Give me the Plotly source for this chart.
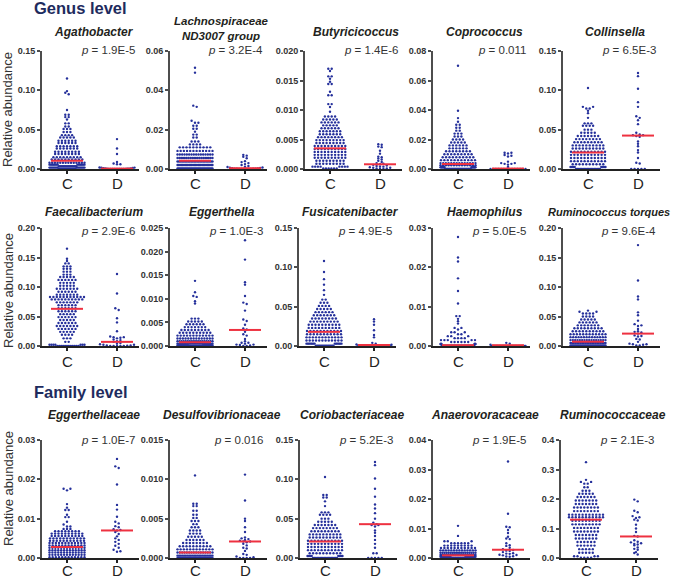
import numpy as np
import plotly.graph_objects as go

# ---------------- data ----------------
taxa = ["Agathobacter", "Lachnospiraceae<br>ND3007 group", "Butyricicoccus", "Coprococcus", "Collinsella",
        "Faecalibacterium", "Eggerthella", "Fusicatenibacter", "Haemophilus", "Ruminococcus torques",
        "Eggerthellaceae", "Desulfovibrionaceae", "Coriobacteriaceae", "Anaerovoracaceae", "Ruminococcaceae"]
p_values = ["1.9E-5", "3.2E-4", "1.4E-6", "0.011", "6.5E-3",
            "2.9E-6", "1.0E-3", "4.9E-5", "5.0E-5", "9.6E-4",
            "1.0E-7", "0.016", "5.2E-3", "1.9E-5", "2.1E-3"]
groups = ["C", "D"]
section_labels = ["Genus level", "Family level"]
y_label = "Relative abundance"

y_ticks = [[0, 0.05, 0.10, 0.15], [0, 0.02, 0.04, 0.06], [0, 0.005, 0.010, 0.015, 0.020],
           [0, 0.02, 0.04, 0.06, 0.08], [0, 0.05, 0.10, 0.15],
           [0, 0.05, 0.10, 0.15, 0.20], [0, 0.005, 0.010, 0.015, 0.020, 0.025], [0, 0.05, 0.10, 0.15],
           [0, 0.01, 0.02, 0.03], [0, 0.05, 0.10, 0.15, 0.20],
           [0, 0.01, 0.02, 0.03], [0, 0.005, 0.010, 0.015], [0, 0.05, 0.10, 0.15],
           [0, 0.01, 0.02, 0.03, 0.04], [0, 0.1, 0.2, 0.3, 0.4]]
y_tick_labels = [["0.00", "0.05", "0.10", "0.15"], ["0.00", "0.02", "0.04", "0.06"],
                 ["0.000", "0.005", "0.010", "0.015", "0.020"], ["0.00", "0.02", "0.04", "0.06", "0.08"],
                 ["0.00", "0.05", "0.10", "0.15"],
                 ["0.00", "0.05", "0.10", "0.15", "0.20"], ["0.000", "0.005", "0.010", "0.015", "0.020", "0.025"],
                 ["0.00", "0.05", "0.10", "0.15"], ["0.00", "0.01", "0.02", "0.03"],
                 ["0.00", "0.05", "0.10", "0.15", "0.20"],
                 ["0.00", "0.01", "0.02", "0.03"], ["0.000", "0.005", "0.010", "0.015"],
                 ["0.00", "0.05", "0.10", "0.15"], ["0.00", "0.01", "0.02", "0.03", "0.04"],
                 ["0.0", "0.1", "0.2", "0.3", "0.4"]]

median_C = [0.0105, 0.0042, 0.0035, 0.0034, 0.021, 0.063, 0.0008, 0.018, 0.0002, 0.0073,
            0.0028, 0.0007, 0.021, 0.0009, 0.130]
median_D = [0.0005, 0.0004, 0.0008, 0.0003, 0.0425, 0.007, 0.0034, 0.0013, 0.0002, 0.021,
            0.0070, 0.0021, 0.043, 0.0028, 0.073]

# control group: abundance levels (rows of the dot plot) and number of samples on each
agathobacter_C_levels = [0.115, 0.099, 0.097, 0.095, 0.075, 0.069, 0.066, 0.063, 0.058, 0.054, 0.051, 0.047, 0.043,
                         0.040, 0.036, 0.033, 0.029, 0.026, 0.022, 0.019, 0.015, 0.012, 0.008, 0.0055, 0.0035,
                         0.0018, 0.0004]
agathobacter_C_counts = [1, 1, 1, 1, 1, 2, 2, 1, 2, 2, 3, 3, 4, 5, 6, 6, 7, 7, 8, 8, 9, 10, 14, 15, 16, 16, 16]
agathobacter_D = [0.038, 0.026, 0.019, 0.009, 0.007, 0.006, 0.006, 0.002, 0.0018, 0.0015, 0.0012, 0.001, 0.0008,
                  0.0006, 0.0005, 0.0004, 0.0003, 0.0002, 0.0002, 0.0001, 0.0001, 0, 0, 0, 0, 0, 0]

lachno_C_levels = [0.0515, 0.049, 0.0322, 0.0316, 0.0245, 0.0235, 0.022, 0.0205, 0.019, 0.0175, 0.016, 0.014,
                   0.0125, 0.011, 0.0092, 0.0074, 0.0056, 0.0038, 0.002, 0.0003]
lachno_C_counts = [1, 1, 1, 1, 1, 2, 2, 2, 1, 2, 2, 3, 4, 10, 12, 16, 20, 24, 28, 32]
lachno_D = [0.0072, 0.0068, 0.0062, 0.0055, 0.004, 0.0035, 0.003, 0.0025, 0.002, 0.0015, 0.0012, 0.001, 0.0008,
            0.0006, 0.0005, 0.0004, 0.0003, 0.0002, 0.0002, 0.0001, 0.0001, 0, 0, 0, 0, 0, 0]

butyricicoccus_C_levels = [0.0170, 0.0166, 0.0157, 0.0153, 0.0148, 0.0144, 0.0131, 0.0125, 0.0110, 0.0105, 0.0097,
                           0.0089, 0.0084, 0.0079, 0.0074, 0.0069, 0.0064, 0.0059, 0.0054, 0.0049, 0.0044, 0.0039,
                           0.0034, 0.0029, 0.0024, 0.0019, 0.0014, 0.0009, 0.0004, 0.0001]
butyricicoccus_C_counts = [2, 1, 2, 1, 1, 2, 1, 2, 2, 1, 1, 4, 5, 6, 5, 6, 7, 7, 8, 9, 9, 10, 10, 10, 10, 10, 9, 9,
                           8, 6]
butyricicoccus_D = [0.0042, 0.0041, 0.0038, 0.0037, 0.0031, 0.0026, 0.0021, 0.002, 0.0018, 0.0016, 0.0014, 0.0012,
                    0.001, 0.0009, 0.0008, 0.0007, 0.0006, 0.0005, 0.0004, 0.0004, 0.0003, 0.0002, 0.0002, 0.0001,
                    0.0001, 0, 0]

coprococcus_C_levels = [0.070, 0.0395, 0.0345, 0.032, 0.030, 0.028, 0.026, 0.024, 0.022, 0.020, 0.018, 0.016, 0.014,
                        0.012, 0.010, 0.008, 0.006, 0.004, 0.0025, 0.0012, 0.0]
coprococcus_C_counts = [1, 1, 1, 1, 2, 2, 2, 3, 3, 4, 5, 6, 6, 8, 9, 10, 11, 14, 14, 14, 40]
coprococcus_D = [0.011, 0.011, 0.0105, 0.0095, 0.009, 0.0085, 0.005, 0.004, 0.004, 0.0035, 0.0035, 0.003, 0.0015,
                 0, 0, 0, 0, 0, 0, 0, 0, 0, 0, 0, 0, 0, 0]

collinsella_C_levels = [0.103, 0.079, 0.077, 0.074, 0.071, 0.065, 0.058, 0.055, 0.050, 0.046, 0.042, 0.038, 0.034,
                        0.030, 0.026, 0.022, 0.018, 0.014, 0.010, 0.006, 0.0025, 0.0]
collinsella_C_counts = [1, 2, 2, 1, 1, 1, 3, 4, 3, 5, 7, 8, 9, 10, 10, 11, 11, 11, 11, 10, 8, 18]
collinsella_D = [0.122, 0.118, 0.102, 0.085, 0.079, 0.067, 0.065, 0.062, 0.057, 0.046, 0.044, 0.043, 0.043, 0.042,
                 0.041, 0.035, 0.032, 0.029, 0.024, 0.021, 0.014, 0.008, 0.007, 0, 0, 0, 0, 0]

faecali_C_levels = [0.165, 0.148, 0.144, 0.140, 0.135, 0.131, 0.126, 0.121, 0.117, 0.112, 0.107, 0.102, 0.097,
                    0.092, 0.087, 0.083, 0.079, 0.074, 0.069, 0.064, 0.059, 0.054, 0.049, 0.044, 0.039, 0.034,
                    0.029, 0.024, 0.019, 0.013, 0.007, 0.002, 0.0]
faecali_C_counts = [1, 1, 1, 2, 3, 3, 3, 3, 5, 6, 5, 5, 7, 6, 7, 11, 10, 7, 6, 6, 6, 5, 6, 5, 6, 7, 6, 5, 4, 3, 2,
                    7, 12]
faecali_D = [0.122, 0.089, 0.064, 0.061, 0.047, 0.040, 0.025, 0.016, 0.015, 0.015, 0.014, 0.013, 0.011, 0.010,
             0.008, 0.007, 0.005, 0.004, 0.003, 0.002, 0.002, 0.001, 0.001, 0.0005, 0, 0, 0, 0, 0]

eggerthella_C_levels = [0.0138, 0.0114, 0.0106, 0.0104, 0.0095, 0.0090, 0.0058, 0.0052, 0.0046, 0.0040, 0.0034,
                        0.0028, 0.0022, 0.0016, 0.0010, 0.0005, 0.0001, 0.0]
eggerthella_C_counts = [1, 1, 1, 1, 1, 1, 3, 5, 6, 7, 9, 10, 12, 14, 18, 22, 25, 15]
eggerthella_D = [0.0224, 0.0183, 0.0135, 0.013, 0.0106, 0.0092, 0.0089, 0.0075, 0.0056, 0.0053, 0.0045, 0.0037,
                 0.0035, 0.003, 0.0025, 0.0022, 0.0015, 0.001, 0.0007, 0.0007, 0.0005, 0.0003, 0.0003, 0.0002,
                 0.0001, 0, 0]

fusicatenibacter_C_levels = [0.108, 0.094, 0.085, 0.078, 0.071, 0.065, 0.059, 0.055, 0.051, 0.047, 0.043, 0.039,
                             0.035, 0.031, 0.027, 0.023, 0.019, 0.015, 0.011, 0.007, 0.003, 0.0005]
fusicatenibacter_C_counts = [1, 1, 1, 1, 1, 1, 2, 3, 4, 5, 6, 7, 8, 9, 10, 10, 11, 11, 12, 12, 13, 14]
fusicatenibacter_D = [0.034, 0.031, 0.027, 0.020, 0.014, 0.011, 0.004, 0.003, 0.002, 0.0015, 0.001, 0.001, 0.0008,
                      0.0006, 0.0005, 0.0004, 0.0003, 0.0002, 0.0002, 0.0001, 0.0001, 0, 0, 0, 0, 0, 0]

haemophilus_C_levels = [0.0277, 0.0225, 0.0215, 0.0172, 0.0140, 0.0108, 0.0076, 0.0069, 0.0063, 0.0057, 0.0046,
                        0.0042, 0.0035, 0.0030, 0.0025, 0.0020, 0.0015, 0.0010, 0.0005, 0.0]
haemophilus_C_counts = [1, 1, 1, 1, 1, 1, 2, 1, 1, 1, 2, 1, 3, 2, 3, 4, 5, 6, 8, 100]
haemophilus_D = [0.0008, 0.0006, 0.0003, 0, 0, 0, 0, 0, 0, 0, 0, 0, 0, 0, 0, 0, 0, 0, 0, 0, 0, 0, 0, 0, 0, 0, 0]

rtorques_C_levels = [0.060, 0.058, 0.055, 0.050, 0.045, 0.040, 0.035, 0.030, 0.025, 0.020, 0.015, 0.010, 0.005,
                     0.001]
rtorques_C_counts = [1, 2, 4, 4, 5, 6, 7, 9, 10, 12, 14, 16, 22, 30]
rtorques_D = [0.171, 0.111, 0.084, 0.079, 0.057, 0.052, 0.043, 0.037, 0.035, 0.034, 0.029, 0.025, 0.024, 0.023,
              0.021, 0.018, 0.017, 0.016, 0.012, 0.011, 0.007, 0.004, 0.003, 0.003, 0.002, 0.001, 0.001]

eggerthellaceae_C_levels = [0.0176, 0.0172, 0.0137, 0.0128, 0.0122, 0.0110, 0.0104, 0.0092, 0.0085, 0.0080, 0.0074,
                            0.0068, 0.0062, 0.0056, 0.0050, 0.0044, 0.0038, 0.0032, 0.0026, 0.0020, 0.0014, 0.0008,
                            0.0002]
eggerthellaceae_C_counts = [2, 1, 1, 1, 2, 1, 2, 1, 1, 2, 3, 8, 10, 10, 11, 11, 12, 12, 13, 13, 13, 13, 12]
eggerthellaceae_D = [0.0252, 0.0233, 0.0229, 0.0187, 0.0135, 0.0123, 0.0105, 0.0092, 0.0088, 0.0081, 0.0078, 0.0073,
                     0.0071, 0.0070, 0.0066, 0.0061, 0.0055, 0.0050, 0.0046, 0.0041, 0.0036, 0.0031, 0.0026, 0.0021,
                     0.0017, 0.0016]

desulfo_C_levels = [0.0105, 0.0069, 0.0066, 0.0060, 0.0055, 0.0051, 0.0047, 0.0043, 0.0039, 0.0035, 0.0031, 0.0027,
                    0.0023, 0.0019, 0.0015, 0.0011, 0.0007, 0.0003, 0.0]
desulfo_C_counts = [1, 2, 2, 2, 2, 2, 3, 2, 3, 4, 4, 5, 6, 8, 10, 12, 16, 22, 30]
desulfo_D = [0.0106, 0.0073, 0.0050, 0.0047, 0.0039, 0.0033, 0.0026, 0.0025, 0.0024, 0.0023, 0.0022, 0.0021, 0.0021,
             0.0020, 0.0018, 0.0016, 0.0013, 0.0012, 0.0009, 0.0005, 0.0004, 0.0002, 0.0001, 0, 0, 0, 0]

corio_C_levels = [0.103, 0.080, 0.077, 0.072, 0.066, 0.058, 0.055, 0.050, 0.046, 0.042, 0.038, 0.034, 0.030, 0.026,
                  0.022, 0.018, 0.014, 0.010, 0.006, 0.0025, 0.0]
corio_C_counts = [1, 2, 2, 1, 1, 3, 4, 3, 5, 7, 8, 9, 10, 10, 11, 11, 11, 11, 10, 8, 18]
corio_D = [0.122, 0.118, 0.101, 0.088, 0.078, 0.068, 0.063, 0.057, 0.050, 0.045, 0.043, 0.042, 0.042, 0.040, 0.035,
           0.032, 0.028, 0.023, 0.018, 0.013, 0.006, 0.006, 0, 0, 0, 0, 0]

anaero_C_levels = [0.0109, 0.0075, 0.0057, 0.0050, 0.0042, 0.0034, 0.0026, 0.0018, 0.0010, 0.0004, 0.0]
anaero_C_counts = [1, 1, 3, 6, 9, 11, 14, 18, 22, 30, 20]
anaero_D = [0.0327, 0.0150, 0.0106, 0.0104, 0.0095, 0.0085, 0.0072, 0.0066, 0.0064, 0.0050, 0.0043, 0.0041, 0.0035,
            0.0030, 0.0027, 0.0025, 0.0024, 0.0020, 0.0016, 0.0015, 0.0014, 0.0011, 0.0010, 0.0009, 0.0006, 0.0005,
            0.0004]

rumino_C_levels = [0.325, 0.265, 0.258, 0.252, 0.240, 0.228, 0.218, 0.207, 0.195, 0.183, 0.171, 0.159, 0.147, 0.138,
                   0.126, 0.114, 0.102, 0.090, 0.078, 0.066, 0.054, 0.042, 0.030, 0.018, 0.006, 0.001]
rumino_C_counts = [1, 1, 2, 2, 2, 3, 5, 6, 7, 7, 8, 8, 11, 11, 9, 9, 8, 8, 7, 7, 6, 6, 5, 5, 4, 4]
rumino_D = [0.198, 0.192, 0.160, 0.155, 0.142, 0.138, 0.136, 0.130, 0.127, 0.113, 0.100, 0.088, 0.075, 0.073, 0.060,
            0.055, 0.053, 0.050, 0.048, 0.046, 0.043, 0.036, 0.031, 0.028, 0.020, 0.017, 0.012]

C_levels = [agathobacter_C_levels, lachno_C_levels, butyricicoccus_C_levels, coprococcus_C_levels,
            collinsella_C_levels, faecali_C_levels, eggerthella_C_levels, fusicatenibacter_C_levels,
            haemophilus_C_levels, rtorques_C_levels, eggerthellaceae_C_levels, desulfo_C_levels,
            corio_C_levels, anaero_C_levels, rumino_C_levels]
C_counts = [agathobacter_C_counts, lachno_C_counts, butyricicoccus_C_counts, coprococcus_C_counts,
            collinsella_C_counts, faecali_C_counts, eggerthella_C_counts, fusicatenibacter_C_counts,
            haemophilus_C_counts, rtorques_C_counts, eggerthellaceae_C_counts, desulfo_C_counts,
            corio_C_counts, anaero_C_counts, rumino_C_counts]
D_values = [agathobacter_D, lachno_D, butyricicoccus_D, coprococcus_D, collinsella_D, faecali_D, eggerthella_D,
            fusicatenibacter_D, haemophilus_D, rtorques_D, eggerthellaceae_D, desulfo_D, corio_D, anaero_D, rumino_D]

# ---------------- layout (pixels) ----------------
W, H = 676, 579
PANEL_W = 97
PLOT_H = 118
row_top = [51, 228, 440]
row_bottom = [169, 346, 558]
col_x = [[42, 170, 305, 433, 563], [42, 170, 299, 433, 563], [42, 170, 300, 433, 561]]
title_y = [32, 212, 415]
p_y = [50, 231, 440]
ylab_y = [110, 291, 489]
cat_label_y = [183, 361, 570]
section_y = [8, 392]
X_RANGE = [-0.5, 1.44]
UNIT_PER_PX = (X_RANGE[1] - X_RANGE[0]) / PANEL_W

DOT = "#25309b"
RED = "#ee3140"
FONT = "Liberation Sans, Arial, sans-serif"


def px_x(x):
    return x / W


def px_y(y):
    return 1 - y / H


def swarm_px(vals, ymax, d_px=3.4, half_px=17.5, bin_px=2.2):
    vals = np.asarray(vals, float)
    ypx = vals / ymax * PLOT_H
    order = np.argsort(vals, kind="stable")
    offs = np.zeros(len(vals))
    bins, cur, start = [], [], 0.0
    for i in order:
        if cur and ypx[i] - start > bin_px:
            bins.append(cur)
            cur = []
        if not cur:
            start = ypx[i]
        cur.append(i)
    if cur:
        bins.append(cur)
    for b in bins:
        n = len(b)
        sp = d_px if n < 2 else min(d_px, 2 * half_px / (n - 1))
        if n % 2:
            slots = [0] + [s * k for k in range(1, n // 2 + 1) for s in (1, -1)]
        else:
            slots = [s * (k - 0.5) for k in range(1, n // 2 + 1) for s in (1, -1)]
        for i, sl in zip(b, slots):
            offs[i] = sl * sp
    return offs


fig = go.Figure()
layout = {}
annotations = []

for k in range(15):
    r, c = divmod(k, 5)
    x0 = col_x[r][c]
    top, bot = row_top[r], row_bottom[r]
    ymax = y_ticks[k][-1]
    sfx = "" if k == 0 else str(k + 1)
    xa, ya = "x" + sfx, "y" + sfx

    c_vals = np.repeat(np.asarray(C_levels[k], float), C_counts[k])
    d_vals = np.asarray(D_values[k], float)
    cx = 0 + swarm_px(c_vals, ymax) * UNIT_PER_PX
    dx = 1 + swarm_px(d_vals, ymax) * UNIT_PER_PX

    fig.add_trace(go.Scatter(x=np.concatenate([cx, dx]), y=np.concatenate([c_vals, d_vals]),
                             mode="markers", xaxis=xa, yaxis=ya, cliponaxis=False, showlegend=False,
                             marker=dict(size=2.4, color=DOT, line=dict(width=0)), hoverinfo="skip"))
    hw = 16 * UNIT_PER_PX
    fig.add_trace(go.Scatter(x=[-hw, hw, None, 1 - hw, 1 + hw],
                             y=[median_C[k], median_C[k], None, median_D[k], median_D[k]],
                             mode="lines", xaxis=xa, yaxis=ya, cliponaxis=False, showlegend=False,
                             line=dict(color=RED, width=2), hoverinfo="skip"))

    layout["xaxis" + sfx] = dict(domain=[px_x(x0), px_x(x0 + PANEL_W)], anchor=ya, range=X_RANGE,
                                 automargin=False, showgrid=False, zeroline=False, showline=True,
                                 linecolor="#222222", linewidth=1.8, ticks="outside", ticklen=3, tickwidth=1.5,
                                 tickcolor="#222222", tickvals=[0, 1], showticklabels=False, fixedrange=True)
    layout["yaxis" + sfx] = dict(domain=[px_y(bot), px_y(top)], anchor=xa, range=[0, ymax],
                                 automargin=False, showgrid=False, zeroline=False, showline=True,
                                 linecolor="#4d4d4d", linewidth=1.8, ticks="outside", ticklen=3, tickwidth=1.5,
                                 tickcolor="#4d4d4d", tickvals=y_ticks[k], ticktext=y_tick_labels[k],
                                 fixedrange=True,
                                 tickfont=dict(family=FONT, size=9, color="#333333", weight="bold"))

    for g, gname in enumerate(groups):
        annotations.append(dict(x=g, y=px_y(cat_label_y[r]), xref=xa, yref="paper", text=gname,
                                showarrow=False, xanchor="center", yanchor="middle",
                                font=dict(family=FONT, size=15, color="#222222")))

    ty = 28 if k == 1 else title_y[r]
    tsize = 11.5 if k == 1 else (11 if k == 9 else 12)
    tx = x0 + PANEL_W / 2 + (-3 if k == 9 else 3)
    annotations.append(dict(x=px_x(tx), y=px_y(ty), xref="paper", yref="paper",
                            text="<b><i>" + taxa[k] + "</i></b>", showarrow=False, xanchor="center",
                            yanchor="middle", font=dict(family=FONT, size=tsize, color="#231f20")))
    annotations.append(dict(x=px_x(x0 + PANEL_W - 2), y=px_y(p_y[r]), xref="paper", yref="paper",
                            text="<i>p</i> = " + p_values[k], showarrow=False, xanchor="right",
                            yanchor="middle", font=dict(family=FONT, size=11.5, color="#333333")))

for r in range(3):
    annotations.append(dict(x=px_x(8), y=px_y(ylab_y[r]), xref="paper", yref="paper", text=y_label,
                            textangle=-90, showarrow=False, xanchor="center", yanchor="middle",
                            font=dict(family=FONT, size=13, color="#333333")))

for i, lab in enumerate(section_labels):
    annotations.append(dict(x=px_x(32), y=px_y(section_y[i]), xref="paper", yref="paper",
                            text="<b>" + lab + "</b>", showarrow=False, xanchor="left", yanchor="middle",
                            font=dict(family=FONT, size=16.5, color="#1e2b5e")))

fig.update_layout(template="none", width=W, height=H, margin=dict(l=0, r=0, t=0, b=0),
                  paper_bgcolor="white", plot_bgcolor="white", showlegend=False,
                  annotations=annotations, **layout)

fig.write_html("out.html", config={"displayModeBar": False},
               post_script="document.body.style.margin='0';document.body.style.overflow='hidden';")
